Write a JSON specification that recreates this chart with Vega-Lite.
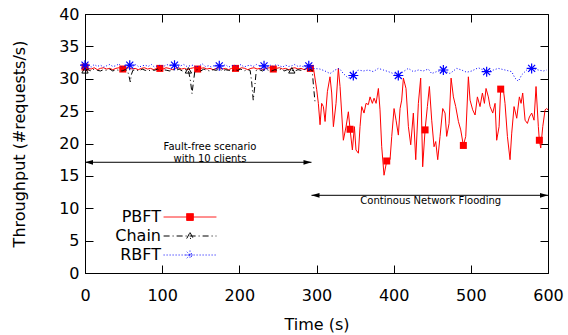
{
  "$schema": "https://vega.github.io/schema/vega-lite/v6.json",
  "width": 463,
  "height": 259,
  "autosize": "none",
  "padding": {"left": 85, "top": 14, "right": 20, "bottom": 62},
  "config": {
    "font": "DejaVu Sans",
    "view": {"stroke": "black", "strokeWidth": 1},
    "axis": {
      "grid": false,
      "domainColor": "black",
      "tickColor": "black",
      "labelColor": "black",
      "titleColor": "black",
      "labelFont": "DejaVu Sans",
      "titleFont": "DejaVu Sans",
      "labelFontSize": 16,
      "titleFontSize": 16,
      "titleFontWeight": "normal",
      "tickSize": -8,
      "labelFlush": false,
      "labelOverlap": false
    }
  },
  "datasets": {
    "pbft": [
      {"time":0,"throughput":31.8},{"time":4,"throughput":31.6},{"time":8,"throughput":31.5},{"time":12,"throughput":31.7},{"time":16,"throughput":31.4},{"time":20,"throughput":31.6},{"time":24,"throughput":31.7},{"time":28,"throughput":31.5},{"time":32,"throughput":31.6},{"time":36,"throughput":31.4},{"time":40,"throughput":31.6},{"time":44,"throughput":31.7},{"time":49,"throughput":31.5},{"time":53,"throughput":31.6},{"time":57,"throughput":31.7},{"time":61,"throughput":31.5},{"time":65,"throughput":31.6},{"time":69,"throughput":31.4},{"time":73,"throughput":31.6},{"time":77,"throughput":31.7},{"time":81,"throughput":31.5},{"time":85,"throughput":31.6},{"time":89,"throughput":31.4},{"time":93,"throughput":31.6},{"time":97,"throughput":31.6},{"time":101,"throughput":31.5},{"time":105,"throughput":31.7},{"time":109,"throughput":31.6},{"time":113,"throughput":31.4},{"time":117,"throughput":31.6},{"time":121,"throughput":31.7},{"time":125,"throughput":31.5},{"time":129,"throughput":31.6},{"time":133,"throughput":31.4},{"time":137,"throughput":31.6},{"time":141,"throughput":31.7},{"time":146,"throughput":31.5},{"time":150,"throughput":31.6},{"time":154,"throughput":31.7},{"time":158,"throughput":31.5},{"time":162,"throughput":31.6},{"time":166,"throughput":31.4},{"time":170,"throughput":31.6},{"time":174,"throughput":31.7},{"time":178,"throughput":31.5},{"time":182,"throughput":31.6},{"time":186,"throughput":31.4},{"time":190,"throughput":31.6},{"time":195,"throughput":31.6},{"time":199,"throughput":31.5},{"time":203,"throughput":31.7},{"time":207,"throughput":31.6},{"time":211,"throughput":31.4},{"time":215,"throughput":31.6},{"time":219,"throughput":31.7},{"time":223,"throughput":31.5},{"time":227,"throughput":31.6},{"time":231,"throughput":31.4},{"time":235,"throughput":31.6},{"time":239,"throughput":31.7},{"time":244,"throughput":31.5},{"time":248,"throughput":31.6},{"time":252,"throughput":31.7},{"time":256,"throughput":31.5},{"time":260,"throughput":31.6},{"time":264,"throughput":31.4},{"time":268,"throughput":31.6},{"time":272,"throughput":31.7},{"time":276,"throughput":31.5},{"time":280,"throughput":31.6},{"time":284,"throughput":31.4},{"time":288,"throughput":31.6},{"time":292,"throughput":31.6},{"time":296,"throughput":31.7},
      {"time":300.3,"throughput":28.3},{"time":302.4,"throughput":26.2},{"time":304.6,"throughput":22.9},{"time":306.7,"throughput":26.2},{"time":308.9,"throughput":25.7},{"time":311.1,"throughput":23.4},{"time":314.1,"throughput":28.0},{"time":317.5,"throughput":30.3},{"time":319.7,"throughput":27.8},{"time":321.9,"throughput":22.6},{"time":325.3,"throughput":26.2},{"time":328.3,"throughput":31.6},{"time":330.5,"throughput":28.8},{"time":334.8,"throughput":20.5},{"time":338.3,"throughput":22.6},{"time":341.3,"throughput":24.9},{"time":343.5,"throughput":22.2},{"time":346.5,"throughput":19.0},{"time":349.1,"throughput":22.6},{"time":351.2,"throughput":19.0},{"time":354.3,"throughput":18.5},{"time":356.4,"throughput":22.6},{"time":358.6,"throughput":25.7},{"time":361.6,"throughput":24.7},{"time":364.2,"throughput":26.2},{"time":367.2,"throughput":26.0},{"time":369.4,"throughput":27.2},{"time":372.4,"throughput":26.2},{"time":374.6,"throughput":27.0},{"time":377.2,"throughput":26.2},{"time":380.2,"throughput":28.5},{"time":382.3,"throughput":25.2},{"time":384.5,"throughput":19.5},{"time":387.5,"throughput":15.1},{"time":391.0,"throughput":17.3},{"time":395.3,"throughput":17.5},{"time":397.5,"throughput":21.1},{"time":400.5,"throughput":25.4},{"time":403.1,"throughput":23.6},{"time":406.1,"throughput":21.3},{"time":408.3,"throughput":25.4},{"time":410.4,"throughput":26.7},{"time":412.6,"throughput":30.1},{"time":416.0,"throughput":28.5},{"time":419.1,"throughput":22.6},{"time":422.1,"throughput":19.8},{"time":425.5,"throughput":24.7},{"time":428.6,"throughput":17.5},{"time":432.0,"throughput":26.2},{"time":435.0,"throughput":30.1},{"time":437.6,"throughput":16.4},{"time":440.7,"throughput":22.1},{"time":443.7,"throughput":25.7},{"time":446.3,"throughput":28.8},{"time":449.3,"throughput":23.6},{"time":452.3,"throughput":19.5},{"time":454.5,"throughput":20.3},{"time":457.1,"throughput":17.5},{"time":460.1,"throughput":21.1},{"time":463.6,"throughput":25.4},{"time":466.6,"throughput":24.7},{"time":468.7,"throughput":21.1},{"time":471.8,"throughput":23.1},{"time":474.4,"throughput":30.1},{"time":477.4,"throughput":27.2},{"time":480.4,"throughput":25.7},{"time":483.9,"throughput":23.4},{"time":486.9,"throughput":22.1},{"time":490.3,"throughput":19.7},{"time":493.4,"throughput":21.1},{"time":496.8,"throughput":30.3},{"time":499.0,"throughput":26.7},{"time":502.4,"throughput":25.2},{"time":505.5,"throughput":24.4},{"time":508.5,"throughput":27.2},{"time":511.9,"throughput":25.7},{"time":515.0,"throughput":27.8},{"time":517.6,"throughput":26.2},{"time":519.7,"throughput":28.5},{"time":522.7,"throughput":27.2},{"time":524.9,"throughput":25.7},{"time":528.4,"throughput":24.7},{"time":531.4,"throughput":26.2},{"time":533.5,"throughput":20.5},{"time":536.6,"throughput":22.6},{"time":538.7,"throughput":28.4},{"time":542.2,"throughput":28.3},{"time":544.3,"throughput":26.2},{"time":547.4,"throughput":21.1},{"time":550.8,"throughput":17.5},{"time":553.0,"throughput":21.6},{"time":556.0,"throughput":25.7},{"time":559.5,"throughput":23.9},{"time":562.9,"throughput":27.2},{"time":565.1,"throughput":26.2},{"time":567.2,"throughput":27.8},{"time":570.3,"throughput":23.6},{"time":573.3,"throughput":23.1},{"time":575.9,"throughput":24.1},{"time":578.9,"throughput":24.7},{"time":581.9,"throughput":23.6},{"time":584.5,"throughput":28.8},{"time":587.5,"throughput":22.6},{"time":588.8,"throughput":20.5},{"time":590.6,"throughput":19.3},{"time":593.2,"throughput":22.6},{"time":596.2,"throughput":25.2},{"time":598.3,"throughput":25.4},{"time":600,"throughput":25.2}
    ],
    "pbft_marks": [
      {"time":0,"throughput":31.8},{"time":49,"throughput":31.5},{"time":97,"throughput":31.6},{"time":146,"throughput":31.5},{"time":195,"throughput":31.6},{"time":244,"throughput":31.5},{"time":292,"throughput":31.6},{"time":343.5,"throughput":22.2},{"time":391.0,"throughput":17.3},{"time":440.7,"throughput":22.1},{"time":490.3,"throughput":19.7},{"time":538.7,"throughput":28.4},{"time":588.8,"throughput":20.5}
    ],
    "chain": [
      {"time":0,"throughput":31.3},{"time":4,"throughput":31.4},{"time":8,"throughput":31.2},{"time":12,"throughput":31.5},{"time":16,"throughput":31.3},{"time":20,"throughput":31.2},{"time":24,"throughput":31.4},{"time":28,"throughput":31.3},{"time":32,"throughput":31.5},{"time":36,"throughput":31.2},{"time":40,"throughput":31.4},{"time":44,"throughput":31.3},{"time":48,"throughput":31.2},{"time":52,"throughput":31.4},{"time":55,"throughput":31.3},{"time":57,"throughput":30.4},{"time":58.7,"throughput":29.5},{"time":60,"throughput":30.6},{"time":62,"throughput":31.3},{"time":66,"throughput":31.4},{"time":70,"throughput":31.2},{"time":74,"throughput":31.5},{"time":78,"throughput":31.3},{"time":82,"throughput":31.2},{"time":86,"throughput":31.4},{"time":90,"throughput":31.3},{"time":94,"throughput":31.5},{"time":98,"throughput":31.2},{"time":102,"throughput":31.4},{"time":106,"throughput":31.3},{"time":110,"throughput":31.2},{"time":114,"throughput":31.4},{"time":118,"throughput":31.3},{"time":122,"throughput":31.5},{"time":126,"throughput":31.2},{"time":130,"throughput":31.4},{"time":134,"throughput":31.3},{"time":136.5,"throughput":29.8},{"time":138.7,"throughput":27.7},{"time":140.5,"throughput":29.5},{"time":142.5,"throughput":31.3},{"time":146,"throughput":31.4},{"time":150,"throughput":31.2},{"time":154,"throughput":31.5},{"time":158,"throughput":31.3},{"time":162,"throughput":31.2},{"time":166,"throughput":31.4},{"time":170,"throughput":31.3},{"time":174,"throughput":31.5},{"time":178,"throughput":31.2},{"time":182,"throughput":31.4},{"time":186,"throughput":31.3},{"time":190,"throughput":31.2},{"time":194,"throughput":31.4},{"time":198,"throughput":31.3},{"time":202,"throughput":31.5},{"time":206,"throughput":31.2},{"time":210,"throughput":31.4},{"time":214,"throughput":31.3},{"time":216,"throughput":29.5},{"time":218,"throughput":26.7},{"time":220,"throughput":28.8},{"time":222,"throughput":31.3},{"time":226,"throughput":31.4},{"time":230,"throughput":31.2},{"time":234,"throughput":31.5},{"time":238,"throughput":31.3},{"time":242,"throughput":31.2},{"time":246,"throughput":31.4},{"time":250,"throughput":31.3},{"time":254,"throughput":31.5},{"time":258,"throughput":31.2},{"time":262,"throughput":31.4},{"time":266,"throughput":31.3},{"time":268,"throughput":31.3},{"time":272,"throughput":31.2},{"time":276,"throughput":31.4},{"time":280,"throughput":31.3},{"time":284,"throughput":31.5},{"time":288,"throughput":31.2},{"time":292,"throughput":31.4},{"time":294.5,"throughput":31.3},{"time":296,"throughput":29.0},{"time":298,"throughput":26.5}
    ],
    "chain_marks": [
      {"time":0,"throughput":31.3},{"time":134,"throughput":31.3},{"time":268,"throughput":31.3}
    ],
    "rbft": [
      {"time":0,"throughput":32.1},{"time":4,"throughput":32.0},{"time":8,"throughput":31.8},{"time":12,"throughput":32.2},{"time":16,"throughput":31.9},{"time":20,"throughput":32.1},{"time":24,"throughput":31.8},{"time":28,"throughput":32.0},{"time":32,"throughput":32.2},{"time":36,"throughput":31.9},{"time":40,"throughput":32.0},{"time":44,"throughput":32.3},{"time":48,"throughput":31.8},{"time":52,"throughput":32.0},{"time":58,"throughput":32.1},{"time":62,"throughput":31.9},{"time":66,"throughput":32.2},{"time":70,"throughput":31.8},{"time":74,"throughput":32.0},{"time":78,"throughput":32.1},{"time":82,"throughput":31.9},{"time":86,"throughput":32.2},{"time":90,"throughput":31.8},{"time":94,"throughput":32.0},{"time":98,"throughput":32.1},{"time":102,"throughput":31.9},{"time":106,"throughput":32.2},{"time":110,"throughput":32.0},{"time":116,"throughput":32.1},{"time":120,"throughput":31.8},{"time":124,"throughput":32.0},{"time":128,"throughput":32.2},{"time":132,"throughput":31.9},{"time":136,"throughput":32.0},{"time":140,"throughput":32.1},{"time":144,"throughput":31.8},{"time":148,"throughput":32.0},{"time":152,"throughput":32.3},{"time":156,"throughput":31.9},{"time":160,"throughput":32.0},{"time":164,"throughput":31.8},{"time":168,"throughput":32.1},{"time":174,"throughput":32.0},{"time":178,"throughput":31.9},{"time":182,"throughput":32.2},{"time":186,"throughput":31.8},{"time":190,"throughput":32.0},{"time":194,"throughput":32.1},{"time":198,"throughput":31.9},{"time":202,"throughput":32.2},{"time":206,"throughput":31.8},{"time":210,"throughput":32.0},{"time":214,"throughput":32.1},{"time":218,"throughput":31.9},{"time":222,"throughput":32.2},{"time":226,"throughput":32.0},{"time":232,"throughput":32.0},{"time":236,"throughput":31.8},{"time":240,"throughput":32.1},{"time":244,"throughput":31.9},{"time":248,"throughput":32.2},{"time":252,"throughput":32.0},{"time":256,"throughput":31.8},{"time":260,"throughput":32.1},{"time":264,"throughput":31.9},{"time":268,"throughput":32.0},{"time":272,"throughput":32.2},{"time":276,"throughput":31.9},{"time":280,"throughput":32.0},{"time":284,"throughput":31.8},{"time":290,"throughput":32.0},{"time":295.9,"throughput":31.6},{"time":304.5,"throughput":31.5},{"time":311.0,"throughput":31.2},{"time":317.5,"throughput":30.8},{"time":324.0,"throughput":31.35},{"time":329.6,"throughput":31.6},{"time":334.8,"throughput":30.8},{"time":341.2,"throughput":30.1},{"time":347.7,"throughput":30.5},{"time":354.2,"throughput":31.35},{"time":360.7,"throughput":31.2},{"time":367.2,"throughput":31.35},{"time":373.6,"throughput":31.1},{"time":380.1,"throughput":31.6},{"time":386.6,"throughput":31.35},{"time":393.1,"throughput":31.1},{"time":399.6,"throughput":30.8},{"time":406.0,"throughput":30.5},{"time":412.5,"throughput":31.1},{"time":419.0,"throughput":31.6},{"time":425.5,"throughput":31.1},{"time":432.0,"throughput":31.35},{"time":438.4,"throughput":31.2},{"time":444.9,"throughput":31.5},{"time":449.2,"throughput":30.8},{"time":455.7,"throughput":31.1},{"time":464.4,"throughput":31.35},{"time":473.0,"throughput":30.8},{"time":481.6,"throughput":31.6},{"time":488.1,"throughput":31.35},{"time":494.6,"throughput":31.0},{"time":501.1,"throughput":31.2},{"time":509.7,"throughput":31.7},{"time":520.5,"throughput":31.1},{"time":529.2,"throughput":31.35},{"time":535.6,"throughput":31.6},{"time":544.3,"throughput":31.35},{"time":552.9,"throughput":31.1},{"time":557.2,"throughput":30.1},{"time":561.6,"throughput":29.6},{"time":565.9,"throughput":30.6},{"time":572.4,"throughput":31.35},{"time":578.8,"throughput":31.6},{"time":587.5,"throughput":31.35},{"time":594.0,"throughput":31.2},{"time":598.3,"throughput":31.35}
    ],
    "rbft_marks": [
      {"time":0,"throughput":32.1},{"time":58,"throughput":32.1},{"time":116,"throughput":32.1},{"time":174,"throughput":32.0},{"time":232,"throughput":32.0},{"time":290,"throughput":32.0},{"time":347.7,"throughput":30.5},{"time":406.0,"throughput":30.5},{"time":464.4,"throughput":31.35},{"time":520.5,"throughput":31.1},{"time":578.8,"throughput":31.6}
    ]
  },
  "layer": [
    {
      "data": {"name": "pbft"},
      "mark": {"type": "line", "strokeWidth": 1},
      "encoding": {
        "x": {"field": "time", "type": "quantitative", "scale": {"domain": [0, 600], "nice": false, "zero": false},
              "axis": {"orient": "bottom", "values": [0,100,200,300,400,500,600], "title": "Time (s)", "labelPadding": 22, "titlePadding": 13}},
        "y": {"field": "throughput", "type": "quantitative", "scale": {"domain": [0, 40], "nice": false},
              "axis": {"orient": "left", "values": [0,5,10,15,20,25,30,35,40], "title": "Throughput (#requests/s)", "labelPadding": 14, "titlePadding": 31}},
        "color": {
          "datum": "PBFT", "type": "nominal",
          "scale": {"domain": ["PBFT", "Chain", "RBFT"], "range": ["#ff0000", "#000000", "#0000ff"]},
          "legend": {
            "orient": "none", "legendX": 97, "legendY": 195, "title": null,
            "padding": 0, "rowPadding": 3,
            "labelAlign": "right", "labelOffset": -37, "labelFontSize": 16, "labelFont": "DejaVu Sans", "labelColor": "black",
            "symbolSize": 64, "symbolStrokeWidth": 1,
            "encode": {
              "symbols": {
                "update": {
                  "shape": {"signal": "datum.value === 'PBFT' ? 'M-6.6,0H6.6M-0.85,-0.85H0.85V0.85H-0.85Z' : datum.value === 'Chain' ? 'M-6.6,0H6.6M0,-0.9L0.8,0.6H-0.8Z' : 'M-6.6,0H6.6M-1.1,0H1.1M0,-1.1V1.1M-0.8,-0.8L0.8,0.8M-0.8,0.8L0.8,-0.8'"},
                  "strokeDash": {"signal": "datum.value === 'Chain' ? [6,3,1,3] : datum.value === 'RBFT' ? [1,2] : [1,0]"},
                  "fill": {"signal": "datum.value === 'PBFT' ? '#ff0000' : 'transparent'"},
                  "opacity": {"value": 1}
                }
              }
            }
          }
        }
      }
    },
    {
      "data": {"name": "pbft_marks"},
      "mark": {"type": "point", "shape": "square", "filled": true, "color": "#ff0000", "size": 49, "opacity": 1},
      "encoding": {
        "x": {"field": "time", "type": "quantitative", "axis": null},
        "y": {"field": "throughput", "type": "quantitative", "axis": null}
      }
    },
    {
      "data": {"name": "chain"},
      "mark": {"type": "line", "color": "#000000", "strokeWidth": 1, "strokeDash": [6, 3, 1, 3]},
      "encoding": {
        "x": {"field": "time", "type": "quantitative",
              "axis": {"orient": "top", "values": [0,100,200,300,400,500,600], "labels": false, "title": null, "domain": false}},
        "y": {"field": "throughput", "type": "quantitative",
              "axis": {"orient": "right", "values": [0,5,10,15,20,25,30,35,40], "labels": false, "title": null, "domain": false}}
      }
    },
    {
      "data": {"name": "chain_marks"},
      "mark": {"type": "point", "shape": "triangle-up", "filled": false, "color": "#000000", "size": 40, "strokeWidth": 1, "opacity": 1},
      "encoding": {
        "x": {"field": "time", "type": "quantitative", "axis": null},
        "y": {"field": "throughput", "type": "quantitative", "axis": null}
      }
    },
    {
      "data": {"name": "rbft"},
      "mark": {"type": "line", "color": "#0000ff", "strokeWidth": 1, "strokeDash": [1, 2]},
      "encoding": {
        "x": {"field": "time", "type": "quantitative", "axis": null},
        "y": {"field": "throughput", "type": "quantitative", "axis": null}
      }
    },
    {
      "data": {"name": "rbft_marks"},
      "mark": {"type": "point", "shape": "M-1,0H1M0,-1V1M-0.7,-0.7L0.7,0.7M-0.7,0.7L0.7,-0.7", "filled": false, "color": "#0000ff", "size": 100, "strokeWidth": 1.2, "opacity": 1},
      "encoding": {
        "x": {"field": "time", "type": "quantitative", "axis": null},
        "y": {"field": "throughput", "type": "quantitative", "axis": null}
      }
    },
    {
      "data": {"values": [{}]},
      "mark": {"type": "rule", "color": "black", "strokeWidth": 1},
      "encoding": {
        "x": {"datum": 0, "type": "quantitative", "axis": null},
        "x2": {"datum": 293.5},
        "y": {"datum": 17.1, "type": "quantitative", "axis": null}
      }
    },
    {
      "data": {"values": [{}]},
      "mark": {"type": "rule", "color": "black", "strokeWidth": 1},
      "encoding": {
        "x": {"datum": 293.5, "type": "quantitative", "axis": null},
        "x2": {"datum": 600},
        "y": {"datum": 12.0, "type": "quantitative", "axis": null}
      }
    },
    {
      "data": {"values": [{}]},
      "mark": {"type": "point", "shape": "M0,0L2,-0.6L2,0.6Z", "filled": true, "color": "black", "size": 64, "opacity": 1},
      "encoding": {
        "x": {"datum": 0, "type": "quantitative", "axis": null},
        "y": {"datum": 17.1, "type": "quantitative", "axis": null}
      }
    },
    {
      "data": {"values": [{}]},
      "mark": {"type": "point", "shape": "M0,0L-2,-0.6L-2,0.6Z", "filled": true, "color": "black", "size": 64, "opacity": 1},
      "encoding": {
        "x": {"datum": 293.5, "type": "quantitative", "axis": null},
        "y": {"datum": 17.1, "type": "quantitative", "axis": null}
      }
    },
    {
      "data": {"values": [{}]},
      "mark": {"type": "point", "shape": "M0,0L2,-0.6L2,0.6Z", "filled": true, "color": "black", "size": 64, "opacity": 1},
      "encoding": {
        "x": {"datum": 293.5, "type": "quantitative", "axis": null},
        "y": {"datum": 12.0, "type": "quantitative", "axis": null}
      }
    },
    {
      "data": {"values": [{}]},
      "mark": {"type": "point", "shape": "M0,0L-2,-0.6L-2,0.6Z", "filled": true, "color": "black", "size": 64, "opacity": 1},
      "encoding": {
        "x": {"datum": 600, "type": "quantitative", "axis": null},
        "y": {"datum": 12.0, "type": "quantitative", "axis": null}
      }
    },
    {
      "data": {"values": [{}]},
      "mark": {"type": "text", "text": ["Fault-free scenario", "with 10 clients"], "font": "DejaVu Sans", "fontSize": 10, "lineHeight": 12, "align": "center", "baseline": "middle", "color": "black"},
      "encoding": {
        "x": {"datum": 162, "type": "quantitative", "axis": null},
        "y": {"datum": 19.4, "type": "quantitative", "axis": null}
      }
    },
    {
      "data": {"values": [{}]},
      "mark": {"type": "text", "text": "Continous Network Flooding", "font": "DejaVu Sans", "fontSize": 10, "align": "center", "baseline": "middle", "color": "black"},
      "encoding": {
        "x": {"datum": 448, "type": "quantitative", "axis": null},
        "y": {"datum": 11.1, "type": "quantitative", "axis": null}
      }
    }
  ],
  "resolve": {"axis": {"x": "independent", "y": "independent"}}
}
